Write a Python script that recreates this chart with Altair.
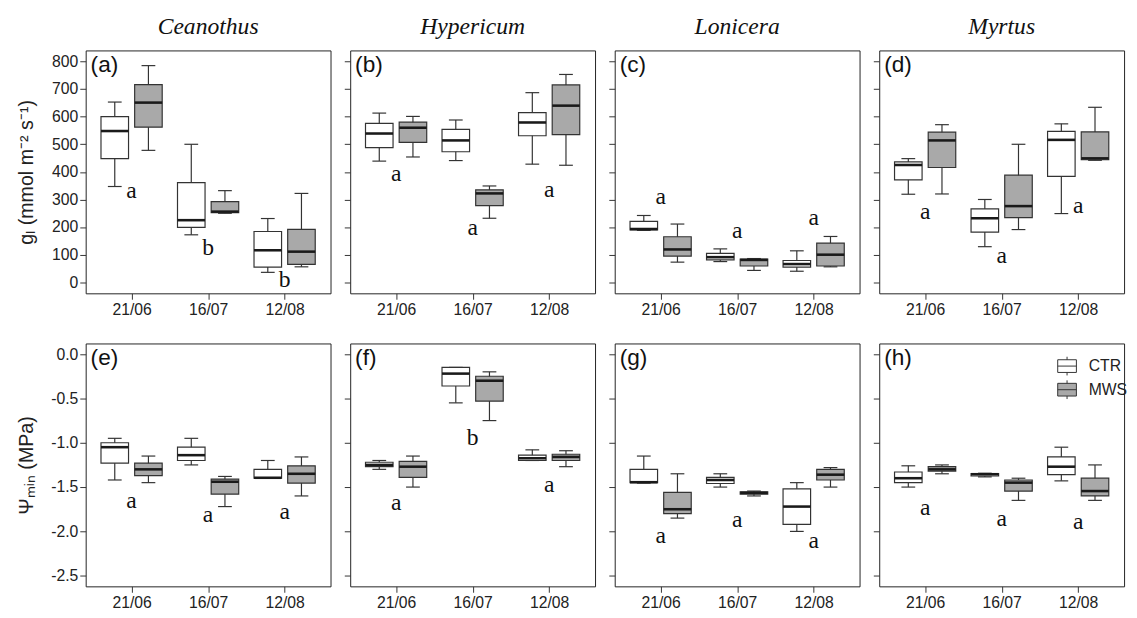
import json
import altair as alt
import pandas as pd

species = ["Ceanothus", "Hypericum", "Lonicera", "Myrtus"]
dates = ["21/06", "16/07", "12/08"]
treatments = ["CTR", "MWS"]
gl_panels = ["(a)", "(b)", "(c)", "(d)"]
psi_panels = ["(e)", "(f)", "(g)", "(h)"]

# five-number summaries [min, q1, median, q3, max]; order: 21/06 CTR, 21/06 MWS, 16/07 CTR, 16/07 MWS, 12/08 CTR, 12/08 MWS
gl_ceanothus = [[347, 448, 548, 600, 653], [478, 562, 651, 716, 785], [172, 199, 225, 361, 500],
                [250, 252, 256, 292, 332], [36, 55, 116, 184, 231], [56, 65, 111, 192, 322]]
gl_hypericum = [[439, 488, 539, 576, 613], [454, 507, 560, 580, 601], [441, 473, 514, 554, 588],
                [232, 278, 322, 335, 349], [428, 531, 579, 615, 687], [424, 535, 640, 715, 753]]
gl_lonicera = [[188, 190, 193, 221, 242], [73, 95, 119, 165, 211], [75, 81, 91, 105, 121],
               [43, 59, 81, 84, 86], [40, 55, 66, 79, 114], [56, 59, 100, 142, 166]]
gl_myrtus = [[319, 371, 425, 436, 448], [320, 416, 514, 544, 571], [129, 182, 232, 266, 300],
             [191, 234, 276, 388, 500], [249, 384, 516, 547, 574], [442, 444, 449, 545, 634]]

psi_ceanothus = [[-1.42, -1.23, -1.05, -1.00, -0.95], [-1.45, -1.37, -1.30, -1.23, -1.15],
                 [-1.25, -1.20, -1.14, -1.05, -0.95], [-1.72, -1.58, -1.44, -1.41, -1.38],
                 [-1.40, -1.40, -1.395, -1.30, -1.20], [-1.60, -1.455, -1.35, -1.26, -1.16]]
psi_hypericum = [[-1.30, -1.27, -1.25, -1.22, -1.20], [-1.50, -1.39, -1.27, -1.21, -1.15],
                 [-0.55, -0.36, -0.22, -0.15, -0.15], [-0.75, -0.53, -0.30, -0.25, -0.20],
                 [-1.20, -1.20, -1.175, -1.14, -1.08], [-1.27, -1.20, -1.16, -1.13, -1.09]]
psi_lonicera = [[-1.455, -1.45, -1.445, -1.30, -1.15], [-1.85, -1.80, -1.75, -1.56, -1.35],
                [-1.50, -1.46, -1.42, -1.39, -1.35], [-1.60, -1.58, -1.565, -1.555, -1.545],
                [-2.00, -1.92, -1.72, -1.52, -1.45], [-1.50, -1.42, -1.36, -1.30, -1.28]]
psi_myrtus = [[-1.50, -1.45, -1.40, -1.33, -1.26], [-1.35, -1.32, -1.30, -1.27, -1.25],
              [-1.385, -1.375, -1.355, -1.348, -1.344], [-1.65, -1.545, -1.45, -1.42, -1.40],
              [-1.43, -1.36, -1.27, -1.16, -1.05], [-1.65, -1.60, -1.545, -1.40, -1.25]]

gl_letters = [["a", "b", "b"], ["a", "a", "a"], ["a", "a", "a"], ["a", "a", "a"]]
gl_letter_y = [[306, 100, -18], [367, 171, 308], [282, 161, 207], [228, 69, 252]]
psi_letters = [["a", "a", "a"], ["a", "b", "a"], ["a", "a", "a"], ["a", "a", "a"]]
psi_letter_y = [[-1.74, -1.89, -1.86], [-1.76, -1.02, -1.55], [-2.13, -1.95, -2.19], [-1.81, -1.94, -1.97]]

gl_ticks = [0, 100, 200, 300, 400, 500, 600, 700, 800]
psi_ticks = [0.0, -0.5, -1.0, -1.5, -2.0, -2.5]

FILL = ["#ffffff", "#a9a9a9"]
LINE = "#333333"
SANS = "Liberation Sans"
SERIF = "Liberation Serif"
W, H = 249, 247

label_expr = json.dumps(dates) + "[datum.value - 1]"
xscale = alt.Scale(domain=[0.4, 3.6], nice=False, zero=False)
xaxis = alt.Axis(values=[1, 2, 3], labelExpr=label_expr, grid=False, domain=False, tickSize=6,
                 tickColor=LINE, labelFont=SANS, labelFontSize=16, labelColor="#222",
                 labelPadding=3, title=None)
box_path = "M-1,-0.68H1V0.68H-1Z M-1,0H1 M0,-0.68V-1 M0,0.68V1"


def panel(boxes, letters, letter_y, label, ydomain, yticks, first, ytitle, title, legend):
    rows = []
    for k, b in enumerate(boxes):
        di = k // 2 + 1
        trt = treatments[k % 2]
        xc = di + (-0.22 if trt == "CTR" else 0.22)
        rows.append(dict(trt=trt, x=xc, xlo=xc - 0.18, xhi=xc + 0.18, clo=xc - 0.09, chi=xc + 0.09,
                         mn=b[0], q1=b[1], med=b[2], q3=b[3], mx=b[4]))
    df = pd.DataFrame(rows)
    ldf = pd.DataFrame(dict(x=[1, 2, 3], y=letter_y, letter=letters))
    if first:
        if ydomain[1] > 1:
            lexpr = "format(datum.value, 'd')"
        else:
            lexpr = "(datum.value < 0 ? '-' : '') + format(abs(datum.value), '.1f')"
        yaxis = alt.Axis(values=yticks, grid=False, domain=False, tickSize=6, tickColor=LINE,
                         labelFont=SANS, labelFontSize=16, labelColor="#222", labelPadding=2,
                         labelExpr=lexpr, title=ytitle, titleFont=SANS, titleFontSize=20,
                         titleFontWeight="normal", titleColor="#222", titleX=-50, titleY=H / 2)
    else:
        yaxis = alt.Axis(values=yticks, grid=False, domain=False, tickSize=6, tickColor=LINE,
                         labels=False, title=None)
    yscale = alt.Scale(domain=ydomain, nice=False, zero=False)

    def X(f):
        return alt.X(f, type="quantitative", scale=xscale, axis=xaxis)

    def Y(f):
        return alt.Y(f, type="quantitative", scale=yscale, axis=yaxis)

    if legend:
        leg = alt.Legend(orient="none", legendX=181, legendY=13, title=None, symbolType=box_path,
                         symbolSize=361, symbolStrokeColor=LINE, symbolStrokeWidth=1,
                         labelFont=SANS, labelFontSize=16, labelColor="#222", labelOffset=12,
                         rowPadding=0, padding=0)
    else:
        leg = None
    fill = alt.Fill("trt:N", scale=alt.Scale(domain=treatments, range=FILL), legend=leg)

    base = alt.Chart(df)
    whisk = base.mark_rule(color=LINE, strokeWidth=1.2).encode(x=X("x"), y=Y("mn"), y2="mx")
    capt = base.mark_rule(color=LINE, strokeWidth=1.2).encode(x=X("clo"), x2="chi", y=Y("mx"))
    capb = base.mark_rule(color=LINE, strokeWidth=1.2).encode(x=X("clo"), x2="chi", y=Y("mn"))
    box = base.mark_bar(stroke=LINE, strokeWidth=1.2).encode(
        x=X("xlo"), x2="xhi", y=Y("q1"), y2="q3", fill=fill)
    med = base.mark_rule(color="#1a1a1a", strokeWidth=2.6).encode(x=X("xlo"), x2="xhi", y=Y("med"))
    let = alt.Chart(ldf).mark_text(font=SERIF, fontSize=24, baseline="alphabetic", color="#111").encode(
        x=X("x"), y=Y("y"), text="letter:N")
    lab = alt.Chart(pd.DataFrame(dict(t=[label]))).mark_text(
        font=SANS, fontSize=23, align="left", baseline="top", color="#111").encode(
        x=alt.value(5), y=alt.value(4), text="t:N")
    ch = alt.layer(whisk, capt, capb, box, med, let, lab).properties(width=W, height=H)
    if title:
        ch = ch.properties(title=alt.TitleParams(title, font=SERIF, fontStyle="italic", fontSize=24,
                                                 fontWeight="normal", color="#111", offset=12))
    return ch


gl_data = [gl_ceanothus, gl_hypericum, gl_lonicera, gl_myrtus]
psi_data = [psi_ceanothus, psi_hypericum, psi_lonicera, psi_myrtus]

charts = []
for i in range(4):
    charts.append(panel(gl_data[i], gl_letters[i], gl_letter_y[i], gl_panels[i], [-40, 840], gl_ticks,
                        i == 0, "g\u2097 (mmol m\u207b\u00b2 s\u207b\u00b9)", species[i], False))
for i in range(4):
    charts.append(panel(psi_data[i], psi_letters[i], psi_letter_y[i], psi_panels[i], [-2.62, 0.12],
                        psi_ticks, i == 0, "\u03a8\u2098\u1d62\u2099 (MPa)", None, i == 3))

chart = alt.concat(*charts, columns=4, spacing={"row": 24, "column": 12}).resolve_scale(
    fill="independent").resolve_legend(fill="independent").configure_view(
    stroke="#222", strokeWidth=1).properties(background="white", padding={"left": 8, "top": 1, "right": 0, "bottom": 0})

chart.save("out.html", embed_options={"renderer": "svg", "actions": False})
